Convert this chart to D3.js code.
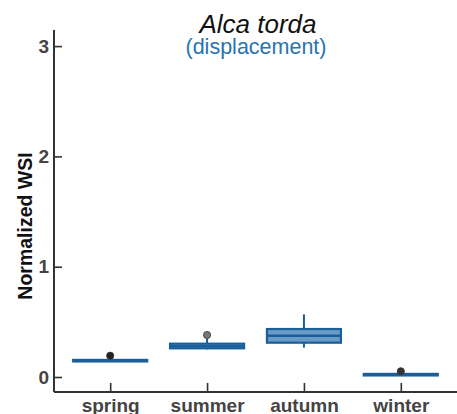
<!DOCTYPE html>
<html>
<head>
<meta charset="utf-8">
<script src="https://cdn.jsdelivr.net/npm/d3@7"></script>
<style>
  html, body { margin: 0; padding: 0; background: #fff; }
  svg { display: block; font-family: "Liberation Sans", Arial, sans-serif; }
</style>
</head>
<body>
<svg id="chart" width="457" height="414"></svg>
<script>
// Seasonal summary statistics of normalized WSI
const seasons   = ["spring", "summer", "autumn", "winter"];
const whiskerLo = [0.141, 0.251, 0.266, 0.014];
const q1        = [0.141, 0.260, 0.311, 0.014];
const medians   = [0.148, 0.280, 0.374, 0.021];
const q3        = [0.155, 0.302, 0.435, 0.028];
const whiskerHi = [0.155, 0.345, 0.568, 0.028];
const outliers  = [[0.193], [0.381], [], [0.052]];
const outlierFill = ["#222222", "#777777", "#333333", "#333333"];
const yTicks    = [0, 1, 2, 3];

(function () {
const svg = d3.select("#chart");
const mLeft = 54, mRight = 457, mTop = 30, mBottom = 392;

const x = d3.scalePoint().domain(seasons).range([mLeft, mRight]).padding(0.58);
const y = d3.scaleLinear().domain([-0.136, 3.146]).range([mBottom, mTop]);
const boxW = 74;

const stroke = "#1a5f99";
const fill = "#6a9bc6";

// Axes
const yAxis = d3.axisLeft(y).tickValues(yTicks).tickFormat(d3.format("d")).tickSizeInner(-8).tickSizeOuter(0).tickPadding(5);
const gy = svg.append("g").attr("transform", `translate(${mLeft},0)`).call(yAxis);
const xAxis = d3.axisBottom(x).tickSizeInner(-9).tickSizeOuter(0).tickPadding(7);
const gx = svg.append("g").attr("transform", `translate(0,${mBottom})`).call(xAxis);

[gy, gx].forEach(g => {
  g.select(".domain").attr("stroke", "#333").attr("stroke-width", 2);
  g.selectAll(".tick line").attr("stroke", "#333").attr("stroke-width", 1.6);
  g.selectAll(".tick text").attr("fill", "#444").attr("font-size", 19).attr("font-weight", "bold")
    .attr("font-family", "'Liberation Sans', Arial, sans-serif");
});
gx.select(".domain").attr("d", `M${mLeft},0H${mRight}`);
gy.select(".domain").attr("d", `M0,${mTop}V${mBottom}`);

// Boxes
const data = seasons.map((s, i) => ({
  s, lo: whiskerLo[i], q1: q1[i], med: medians[i], q3: q3[i], hi: whiskerHi[i],
  out: outliers[i], oc: outlierFill[i]
}));

const g = svg.append("g");
const box = g.selectAll("g.box").data(data).join("g").attr("class", "box")
  .attr("transform", d => `translate(${x(d.s)},0)`);

box.append("line")
  .attr("x1", 0).attr("x2", 0)
  .attr("y1", d => y(d.hi)).attr("y2", d => y(d.lo))
  .attr("stroke", stroke).attr("stroke-width", 2);

box.append("rect")
  .attr("x", -boxW / 2).attr("width", boxW)
  .attr("y", d => y(d.q3)).attr("height", d => Math.max(0, y(d.q1) - y(d.q3)))
  .attr("fill", fill).attr("stroke", stroke).attr("stroke-width", 2.2);

box.append("line")
  .attr("x1", -boxW / 2).attr("x2", boxW / 2)
  .attr("y1", d => y(d.med)).attr("y2", d => y(d.med))
  .attr("stroke", stroke).attr("stroke-width", 2.4);

box.selectAll("circle").data(d => d.out.map(v => ({ v, c: d.oc }))).join("circle")
  .attr("cx", 0).attr("cy", d => y(d.v)).attr("r", 3.6)
  .attr("fill", d => d.c).attr("stroke", "#333").attr("stroke-width", 0.8);

// Titles
svg.append("text").attr("x", 258).attr("y", 32.5).attr("text-anchor", "middle")
  .attr("font-size", 26).attr("font-style", "italic").attr("fill", "#111")
  .text("Alca torda");
svg.append("text").attr("x", 256).attr("y", 54).attr("text-anchor", "middle")
  .attr("font-size", 21.5).attr("fill", "#2a73b0")
  .text("(displacement)");

svg.append("text")
  .attr("transform", `translate(31.5,226) rotate(-90)`)
  .attr("text-anchor", "middle").attr("font-size", 19.5).attr("font-weight", "bold").attr("fill", "#111")
  .text("Normalized WSI");
})();
</script>
</body>
</html>
